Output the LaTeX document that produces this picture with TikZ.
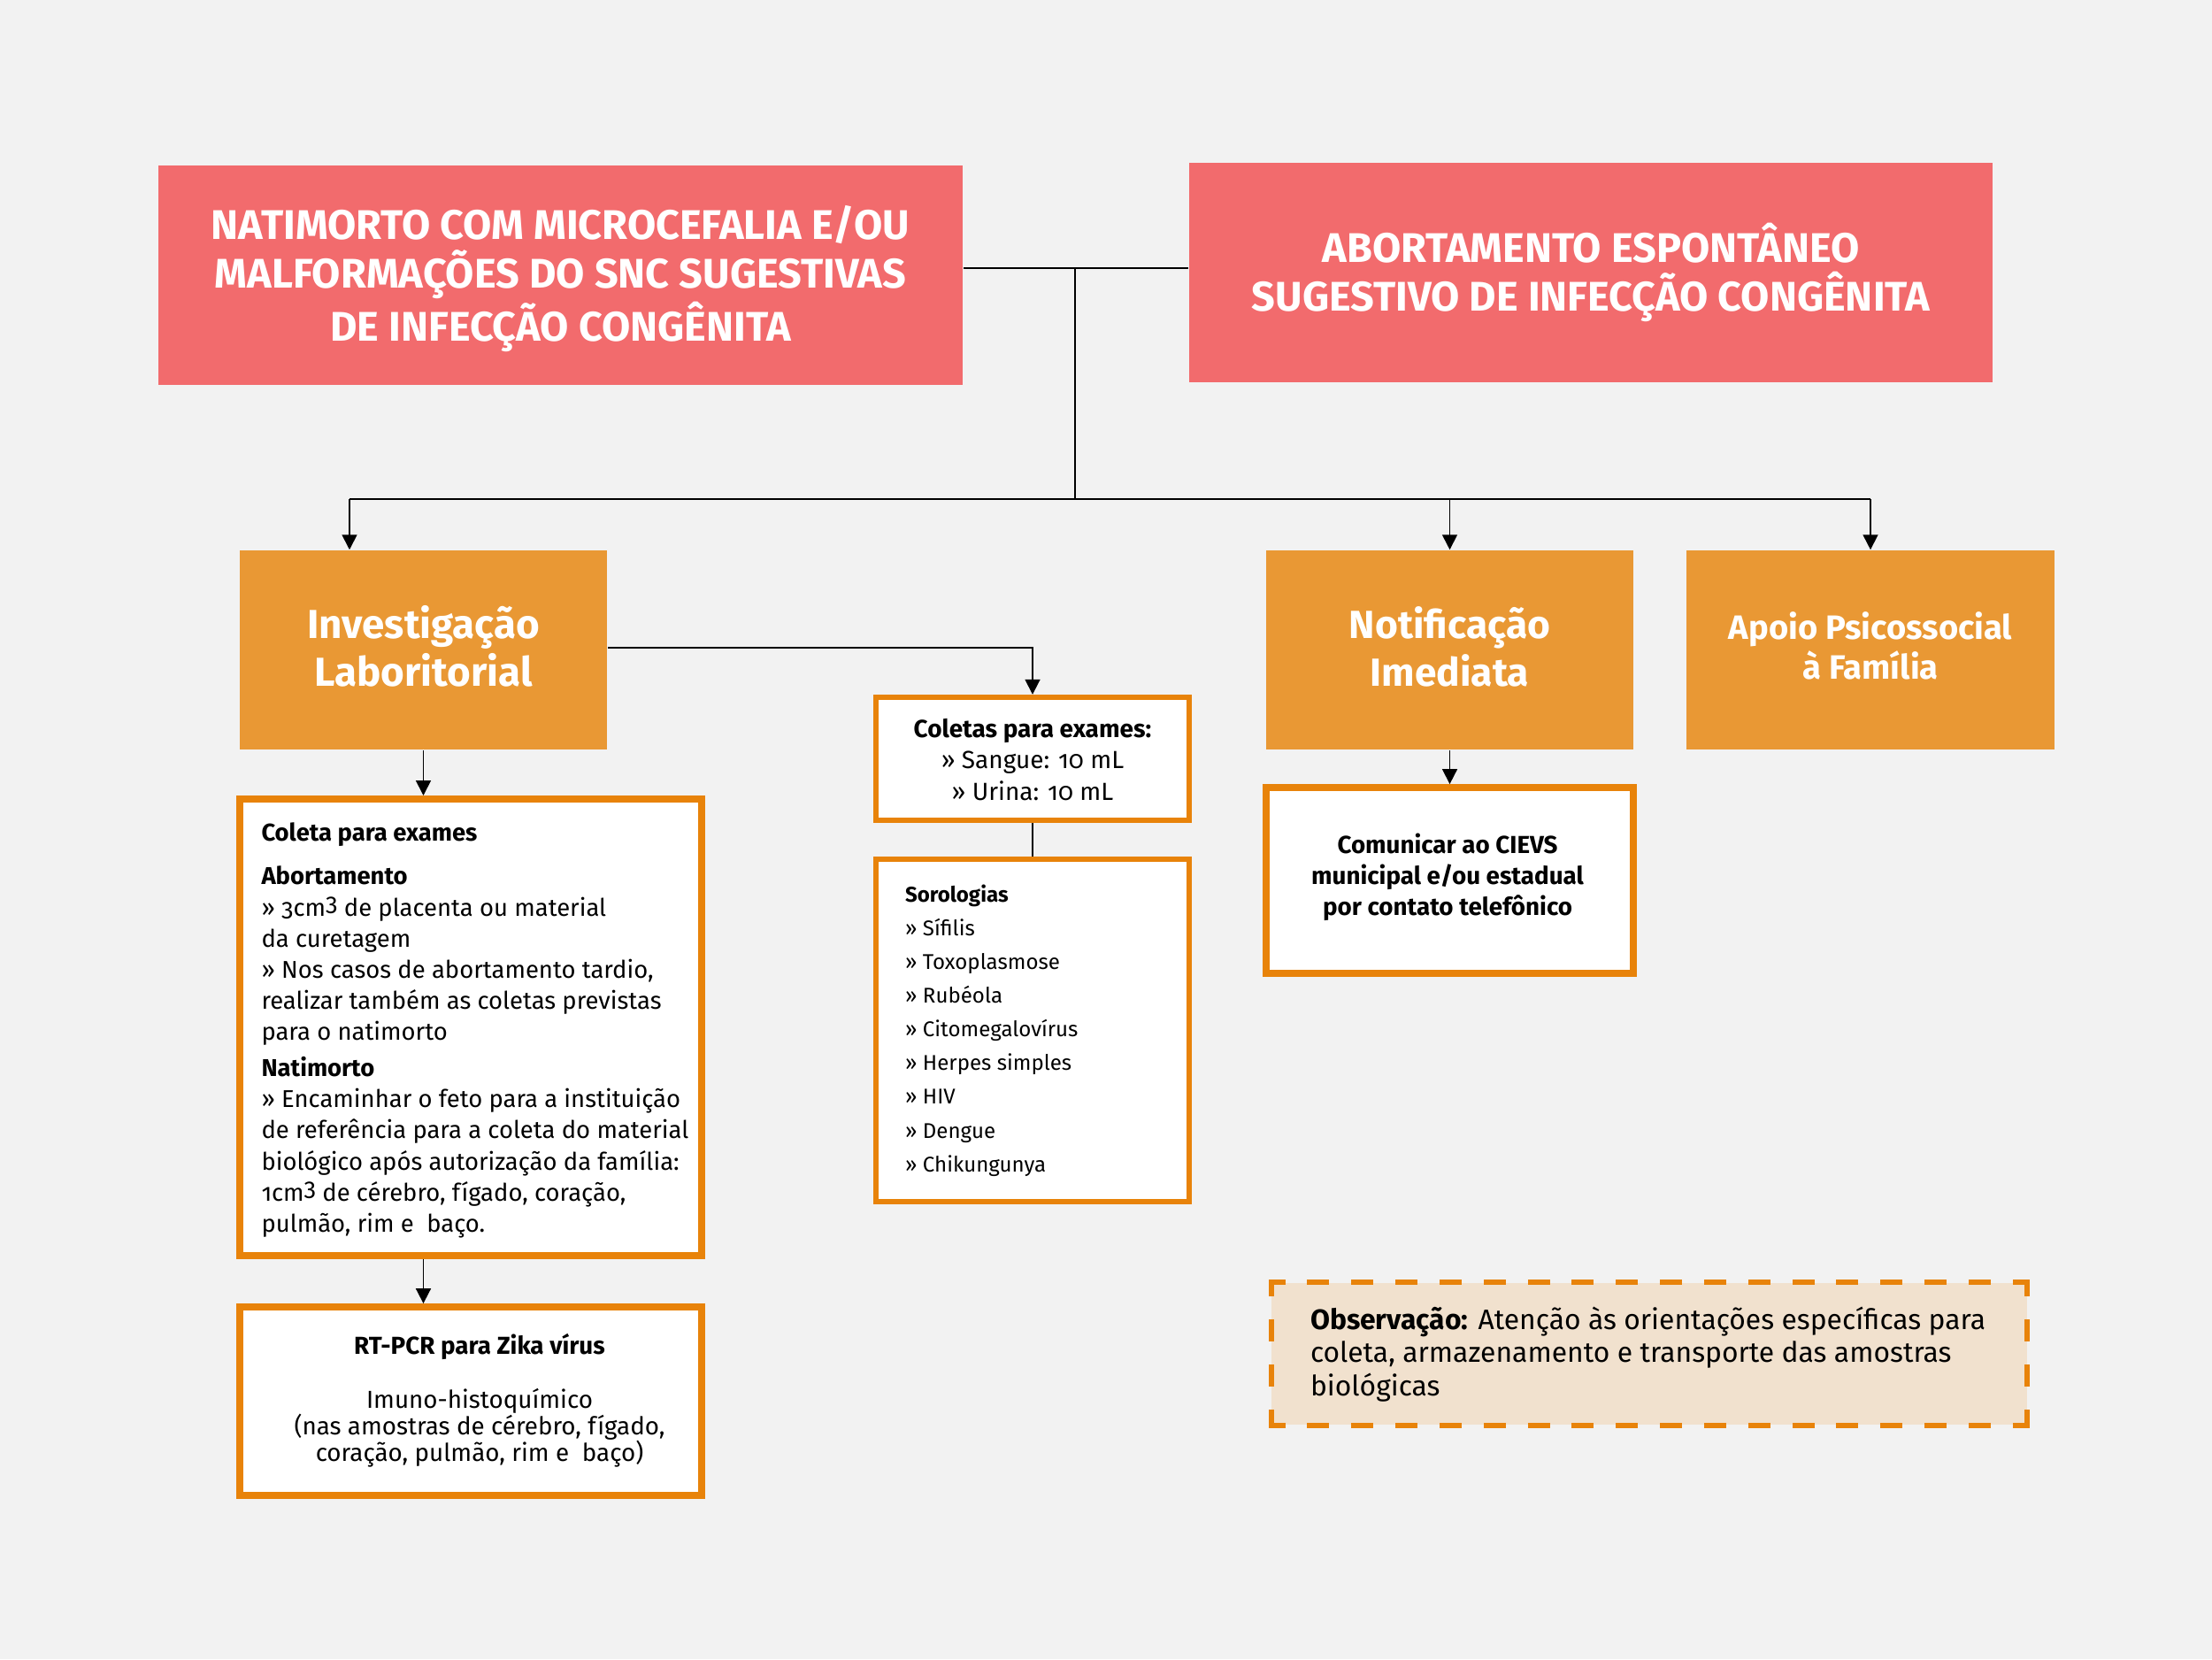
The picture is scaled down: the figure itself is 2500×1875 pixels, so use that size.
\documentclass[tikz,border=0pt]{standalone}
\usepackage{fontspec}
\setmainfont{Fira Sans}[Numbers=OldStyle]
\usetikzlibrary{arrows.meta}
\definecolor{bgc}{HTML}{F2F2F2}
\definecolor{redc}{HTML}{F26B6D}
\definecolor{orc}{HTML}{E99834}
\definecolor{orl}{HTML}{E8830A}
\definecolor{beigec}{HTML}{F1E1CE}
\newcommand{\tightlines}{\lineskiplimit=-20pt\lineskip=0pt}
\newcommand{\cubed}{\raisebox{0.2em}{3}}
\newcommand{\chev}{››}
\begin{document}
\begin{tikzpicture}[x=0.01cm,y=-0.01cm,
  redbox/.style={fill=redc, draw=none, inner sep=0pt},
  titletxt/.style={inner sep=0pt, text=white, align=center,
    font=\bfseries\fontsize{13.3}{15.6}\selectfont},
  orbox/.style={fill=orc, draw=none, minimum width=4.15cm, minimum height=2.25cm, inner sep=0pt},
  ortxt/.style={inner sep=0pt, text=white, align=center},
  wbox/.style={fill=white, draw=orl, line width=2.2pt, inner sep=0pt},
  wboxthin/.style={wbox, line width=1.8pt},
  txt/.style={inner sep=0pt, outer sep=0pt},
  conn/.style={line width=0.5pt, draw=black},
  arr/.style={conn, -{Triangle[width=4.8pt,length=4.8pt]}},
  dshh/.style={draw=orl, line width=1.7pt, line cap=rect,
    dash pattern=on 5.41pt off 8.76pt, dash phase=1.71pt},
  dshv/.style={draw=orl, line width=1.7pt, line cap=rect,
    dash pattern=on 5.41pt off 9.10pt, dash phase=1.71pt},
]
\fill[bgc] (0,0) rectangle (2500,1875);
\useasboundingbox (0,0) rectangle (2500,1875);

% top red boxes
\node[redbox, minimum width=9.09cm, minimum height=2.48cm] (r1) at (633.5,311) {};
\node[titletxt] (r1txt) at (633.5,315)
  {NATIMORTO COM MICROCEFALIA E/OU\\MALFORMAÇÕES DO SNC SUGESTIVAS\\DE INFECÇÃO CONGÊNITA};
\node[redbox, minimum width=9.08cm, minimum height=2.48cm] (r2) at (1798,308) {};
\node[titletxt] (r2txt) at (1798,308)
  {ABORTAMENTO ESPONTÂNEO\\SUGESTIVO DE INFECÇÃO CONGÊNITA};

% orange boxes
\node[orbox] (inv) at (478.5,734.5) {};
\node[ortxt, font=\bfseries\fontsize{13}{15.4}\selectfont] (invtxt) at (478.5,730.5) {Investigação\\Laboritorial};
\node[orbox] (notif) at (1638.5,734.5) {};
\node[ortxt, font=\bfseries\fontsize{12.6}{15.4}\selectfont] (notiftxt) at (1638.5,730.5) {Notificação\\Imediata};
\node[orbox] (apoio) at (2114,734.5) {};
\node[ortxt, font=\bfseries\fontsize{10.85}{12.8}\selectfont] (apoiotxt) at (2114,729.5) {Apoio Psicossocial\\à Família};

% white boxes
\node[wbox, minimum width=5.22cm, minimum height=5.16cm] (coleta) at (532,1161) {};
\node[wbox, minimum width=5.22cm, minimum height=2.13cm] (rt) at (532,1583.5) {};
\node[wboxthin, minimum width=3.54cm, minimum height=1.39cm] (coletas) at (1167,857.5) {};
\node[wboxthin, minimum width=3.54cm, minimum height=3.87cm] (soro) at (1167,1164.5) {};
\node[wbox, minimum width=4.15cm, minimum height=2.10cm] (com) at (1638.5,995) {};

% observation box
\node[fill=beigec, draw=none, inner sep=0pt, minimum width=8.53cm, minimum height=1.60cm] (obs) at (1864,1530) {};
\draw[dshh] (obs.north west) -- (obs.north east);
\draw[dshh] (obs.south west) -- (obs.south east);
\draw[dshv] (obs.north west) -- (obs.south west);
\draw[dshv] (obs.north east) -- (obs.south east);

% texts
\node[txt, anchor=base west] (coletatxt) at (295.5,950) {\parbox[t]{5.5cm}{\raggedright\fontsize{7.8}{10}\selectfont\tightlines
\textbf{Coleta para exames}\\[4.2pt]
\textbf{Abortamento}\\
\chev{} 3cm\cubed{} de placenta ou material\\
da curetagem\\
\chev{} Nos casos de abortamento tardio,\\
realizar também as coletas previstas\\
para o natimorto\\[1.6pt]
\textbf{Natimorto}\\
\chev{} Encaminhar o feto para a instituição\\
de referência para a coleta do material\\
biológico após autorização da família:\\
1cm\cubed{} de cérebro, fígado, coração,\\
pulmão, rim e\ \ baço.}};

\node[txt, anchor=base] (rttxt) at (542,1530) {\parbox[t]{5cm}{\centering\fontsize{7.9}{8.5}\selectfont\tightlines
\textbf{RT-PCR para Zika vírus}\\[9.1pt]
Imuno-histoquímico\\
(nas amostras de cérebro, fígado,\\
coração, pulmão, rim e\ \ baço)}};

\node[txt, anchor=base] (coletastxt) at (1167,833) {\parbox[t]{3.4cm}{\centering\fontsize{7.95}{10.1}\selectfont\tightlines
\textbf{Coletas para exames:}\\
\chev{} Sangue: 10 mL\\
\chev{} Urina: 10 mL}};

\node[txt, anchor=base west] (sorotxt) at (1023,1019) {\parbox[t]{3cm}{\raggedright\fontsize{6.85}{10.85}\selectfont\tightlines
\textbf{Sorologias}\\
\chev{} Sífilis\\
\chev{} Toxoplasmose\\
\chev{} Rubéola\\
\chev{} Citomegalovírus\\
\chev{} Herpes simples\\
\chev{} HIV\\
\chev{} Dengue\\
\chev{} Chikungunya}};

\node[txt, anchor=base] (comtxt) at (1636,964) {\parbox[t]{4cm}{\centering\bfseries\fontsize{7.9}{10}\selectfont\tightlines
Comunicar ao CIEVS\\
municipal e/ou estadual\\
por contato telefônico}};

\node[txt, anchor=base west] (obstxt) at (1481,1502) {\parbox[t]{8cm}{\raggedright\fontsize{9.05}{10.67}\selectfont\tightlines
\textbf{Observação:} Atenção às orientações específicas para\\
coleta, armazenamento e transporte das amostras\\
biológicas}};

% connectors
\coordinate (j) at (1215,303);
\coordinate (hub) at (1215,564);
\coordinate (busL) at (395,564);
\coordinate (busR) at (2114,564);
\coordinate (icy) at (1167,732);
\draw[conn] (r1.east |- j) -- (r2.west |- j);
\draw[conn] (j) -- (hub);
\draw[conn] (busL) -- (busR);
\draw[arr] (busL) -- (busL |- inv.north);
\draw[arr] (hub -| notif.north) -- (notif.north);
\draw[arr] (busR) -- (apoio.north);
\draw[arr] (inv.east |- icy) -- (icy) -- (coletas.north);
\draw[conn] (coletas.south) -- (soro.north);
\draw[arr] (inv.south) -- (inv.south |- coleta.north);
\draw[arr] (coleta.south -| inv.south) -- (rt.north -| inv.south);
\draw[arr] (notif.south) -- (com.north);
\end{tikzpicture}
\end{document}
